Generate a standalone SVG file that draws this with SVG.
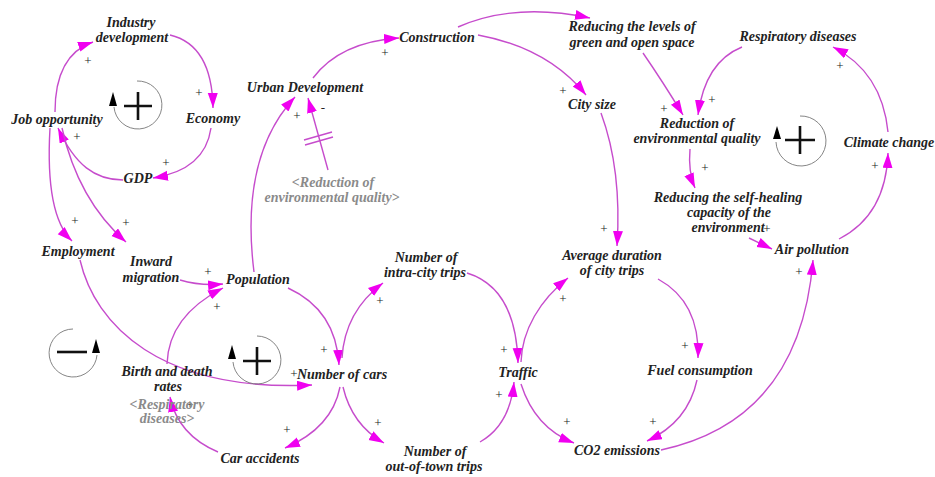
<svg xmlns="http://www.w3.org/2000/svg" width="935" height="477" viewBox="0 0 935 477">
<style>
.n{font-family:"Liberation Serif",serif;font-size:14px;font-weight:bold;font-style:italic;fill:#222;text-anchor:middle}
.g{font-family:"Liberation Serif",serif;font-size:14px;font-weight:bold;font-style:italic;fill:#8a8a8a;text-anchor:middle}
.p{font-family:"Liberation Serif",serif;font-size:13px;fill:#222;text-anchor:middle}
.c{fill:none;stroke:#c64ccc;stroke-width:1.4;marker-end:url(#ah)}
.d{fill:none;stroke:#c64ccc;stroke-width:1.4}
.lc{fill:none;stroke:#777;stroke-width:0.9}
.ls{stroke:#111;stroke-width:2.6;fill:none}
.lt{fill:#000}
</style>
<defs>
<marker id="ah" markerUnits="userSpaceOnUse" markerWidth="16" markerHeight="12" refX="15" refY="5" orient="auto">
<path d="M0,0 L15,5 L0,10 z" fill="#f000f0"/>
</marker>
</defs>
<rect width="935" height="477" fill="#fff"/>

<g id="connectors">
<path class="c" d="M55,112 Q55,55 93,42"/>
<path class="c" d="M170,35 Q212,45 213,108"/>
<path class="c" d="M211,128 Q205,170 153,178"/>
<path class="c" d="M123,180 C95,180 75,165 58,128"/>
<path class="c" d="M50,128 Q45,215 72,241"/>
<path class="c" d="M62,128 Q78,200 126,242"/>
<path class="c" d="M180,280 Q200,286 223,284"/>
<path class="c" d="M167,364 C168,330 190,305 223,288"/>
<path class="c" d="M254,272 C245,200 255,140 295,97"/>
<path class="c" d="M313,78 Q340,42 399,38"/>
<path class="c" d="M458,27 Q515,2 590,18"/>
<path class="c" d="M478,35 Q548,48 586,95"/>
<path class="c" d="M601,113 Q622,170 617,246"/>
<path class="c" d="M643,53 Q663,82 683,115"/>
<path class="c" d="M742,47 Q705,62 698,115"/>
<path class="c" d="M690,149 Q688,172 695,188"/>
<path class="c" d="M749,238 L772,249"/>
<path class="c" d="M839,239 Q886,215 888,153"/>
<path class="c" d="M888,132 Q882,72 833,47"/>
<path class="c" d="M288,288 Q336,310 339,365"/>
<path class="c" d="M342,358 C344,325 360,300 383,283"/>
<path class="c" d="M80,260 C95,325 160,392 312,385"/>
<path class="c" d="M340,387 Q332,428 285,448"/>
<path class="c" d="M343,387 Q352,425 384,443"/>
<path class="c" d="M218,452 Q178,435 170,397"/>
<path class="c" d="M467,273 Q516,288 518,363"/>
<path class="c" d="M521,362 C522,330 540,300 568,278"/>
<path class="c" d="M480,442 Q510,425 514,382"/>
<path class="c" d="M521,384 Q535,428 574,443"/>
<path class="c" d="M658,279 Q700,302 698,358"/>
<path class="c" d="M697,380 Q688,422 647,441"/>
<path class="c" d="M661,450 Q800,420 813,260"/>
<path class="c" d="M328,170 L308,98"/>
<path class="d" d="M304,140 L332,132 M305,145 L333,137"/>
</g>

<g id="polarities">
<text class="p" x="88" y="65">+</text>
<text class="p" x="199" y="97">+</text>
<text class="p" x="166" y="167">+</text>
<text class="p" x="77" y="141">+</text>
<text class="p" x="75" y="225">+</text>
<text class="p" x="126" y="227">+</text>
<text class="p" x="208" y="276">+</text>
<text class="p" x="217" y="311">+</text>
<text class="p" x="297" y="120">+</text>
<text class="p" x="323" y="112">-</text>
<text class="p" x="385" y="57">+</text>
<text class="p" x="563" y="95">+</text>
<text class="p" x="604" y="233">+</text>
<text class="p" x="664" y="113">+</text>
<text class="p" x="712" y="104">+</text>
<text class="p" x="705" y="172">+</text>
<text class="p" x="767" y="233">+</text>
<text class="p" x="875" y="170">+</text>
<text class="p" x="840" y="70">+</text>
<text class="p" x="324" y="354">+</text>
<text class="p" x="380" y="305">+</text>
<text class="p" x="294" y="378">+</text>
<text class="p" x="287" y="434">+</text>
<text class="p" x="378" y="427">+</text>
<text class="p" x="190" y="409">+</text>
<text class="p" x="504" y="354">+</text>
<text class="p" x="563" y="303">+</text>
<text class="p" x="499" y="399">+</text>
<text class="p" x="567" y="426">+</text>
<text class="p" x="685" y="350">+</text>
<text class="p" x="653" y="426">+</text>
<text class="p" x="799" y="276">+</text>
</g>

<g id="loop-r1">
<path class="lc" d="M137,81 A24,24 0 1 1 114,107"/>
<path class="lt" d="M113,92 L109,106 L117,106 z"/>
<path class="ls" d="M124,106 L152,106 M138,92 L138,120"/>
</g>
<g id="loop-r2">
<path class="lc" d="M257,336 A24,24 0 1 1 233,362"/>
<path class="lt" d="M232,345 L228,359 L236,359 z"/>
<path class="ls" d="M243,361 L271,361 M257,347 L257,375"/>
</g>
<g id="loop-r3">
<path class="lc" d="M800,116 A25,25 0 1 1 776,142"/>
<path class="lt" d="M777,126 L773,139 L781,139 z"/>
<path class="ls" d="M785,140 L815,140 M800,126 L800,154"/>
</g>
<g id="loop-b1">
<path class="lc" d="M73,329 A24,24 0 1 0 97,355"/>
<path class="lt" d="M96,339 L92,353 L100,353 z"/>
<path class="ls" d="M57,352 L87,352"/>
</g>

<g id="industry"><text class="n" x="131" y="27">Industry</text><text class="n" x="132" y="42">development</text></g>
<g id="economy"><text class="n" x="213" y="123">Economy</text></g>
<g id="job"><text class="n" x="57" y="124">Job opportunity</text></g>
<g id="gdp"><text class="n" x="138" y="183">GDP</text></g>
<g id="employment"><text class="n" x="78" y="256">Employment</text></g>
<g id="inward"><text class="n" x="151" y="266">Inward</text><text class="n" x="151" y="282">migration</text></g>
<g id="population"><text class="n" x="258" y="284">Population</text></g>
<g id="urban"><text class="n" x="305" y="92">Urban Development</text></g>
<g id="ghost-reduction"><text class="g" x="333" y="187">&lt;Reduction of</text><text class="g" x="332" y="202">environmental quality&gt;</text></g>
<g id="construction"><text class="n" x="437" y="42">Construction</text></g>
<g id="citysize"><text class="n" x="592" y="109">City size</text></g>
<g id="green"><text class="n" x="632" y="31">Reducing the levels of</text><text class="n" x="632" y="47">green and open space</text></g>
<g id="respiratory"><text class="n" x="798" y="41">Respiratory diseases</text></g>
<g id="reduction"><text class="n" x="697" y="128">Reduction of</text><text class="n" x="697" y="143">environmental quality</text></g>
<g id="climate"><text class="n" x="889" y="147">Climate change</text></g>
<g id="selfhealing"><text class="n" x="728" y="202">Reducing the self-healing</text><text class="n" x="729" y="217">capacity of the</text><text class="n" x="728" y="232">environment</text></g>
<g id="air"><text class="n" x="812" y="254">Air pollution</text></g>
<g id="avgdur"><text class="n" x="612" y="260">Average duration</text><text class="n" x="612" y="275">of city trips</text></g>
<g id="intra"><text class="n" x="426" y="262">Number of</text><text class="n" x="425" y="277">intra-city trips</text></g>
<g id="cars"><text class="n" x="342" y="379">Number of cars</text></g>
<g id="traffic"><text class="n" x="518" y="377">Traffic</text></g>
<g id="fuel"><text class="n" x="700" y="375">Fuel consumption</text></g>
<g id="co2"><text class="n" x="617" y="455">CO2 emissions</text></g>
<g id="outtown"><text class="n" x="435" y="456">Number of</text><text class="n" x="434" y="471">out-of-town trips</text></g>
<g id="accidents"><text class="n" x="260" y="463">Car accidents</text></g>
<g id="birth"><text class="n" x="167" y="376">Birth and death</text><text class="n" x="168" y="391">rates</text></g>
<g id="ghost-respiratory"><text class="g" x="167" y="409">&lt;Respiratory</text><text class="g" x="167" y="423">diseases&gt;</text></g>
</svg>
